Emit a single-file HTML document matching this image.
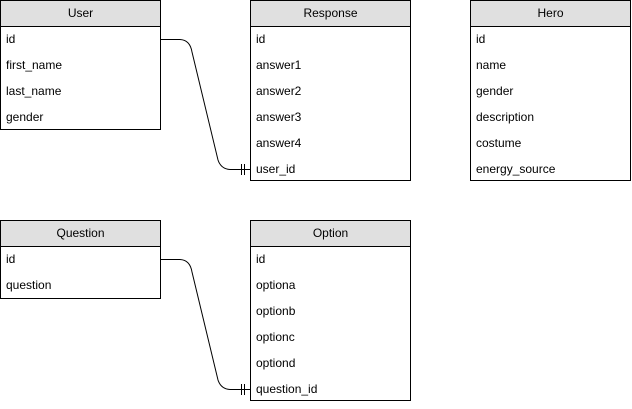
<!DOCTYPE html>
<html><head><style>
body{margin:0;width:632px;height:409px;background:#fff;position:relative;font-family:"Liberation Sans",Arial,sans-serif;font-size:12px;color:#000;overflow:hidden}
.t{position:absolute;border:1px solid #000;background:#fff;box-sizing:border-box}
.h{height:26px;line-height:25px;text-align:center;background:#e0e0e0;border-bottom:1px solid #000;box-sizing:border-box}
.r{height:26px;line-height:24px;padding-left:5px}
svg{position:absolute;left:0;top:0}
</style></head><body>
<div class="t" style="left:0;top:0;width:161px;height:130px"><div class="h">User</div><div class="r">id</div><div class="r">first_name</div><div class="r">last_name</div><div class="r">gender</div></div>
<div class="t" style="left:250px;top:0;width:161px;height:181px"><div class="h">Response</div><div class="r">id</div><div class="r">answer1</div><div class="r">answer2</div><div class="r">answer3</div><div class="r">answer4</div><div class="r">user_id</div></div>
<div class="t" style="left:470px;top:0;width:161px;height:181px"><div class="h">Hero</div><div class="r">id</div><div class="r">name</div><div class="r">gender</div><div class="r">description</div><div class="r">costume</div><div class="r">energy_source</div></div>
<div class="t" style="left:0;top:220px;width:161px;height:79px"><div class="h">Question</div><div class="r">id</div><div class="r">question</div></div>
<div class="t" style="left:250px;top:220px;width:161px;height:181px"><div class="h">Option</div><div class="r">id</div><div class="r">optiona</div><div class="r">optionb</div><div class="r">optionc</div><div class="r">optiond</div><div class="r">question_id</div></div>
<svg width="632" height="409" fill="none" stroke="#000" stroke-width="1">
<path d="M160.5 39.5 H180 Q190 40 192 52 L218 160 Q221 169 230 169.5 H250"/>
<path d="M241.5 164 V175 M244.5 164 V175"/>
<path d="M160.5 259.5 H180 Q190 260 192 272 L218 380 Q221 389 230 389.5 H250"/>
<path d="M241.5 384 V395 M244.5 384 V395"/>
</svg>
</body></html>
